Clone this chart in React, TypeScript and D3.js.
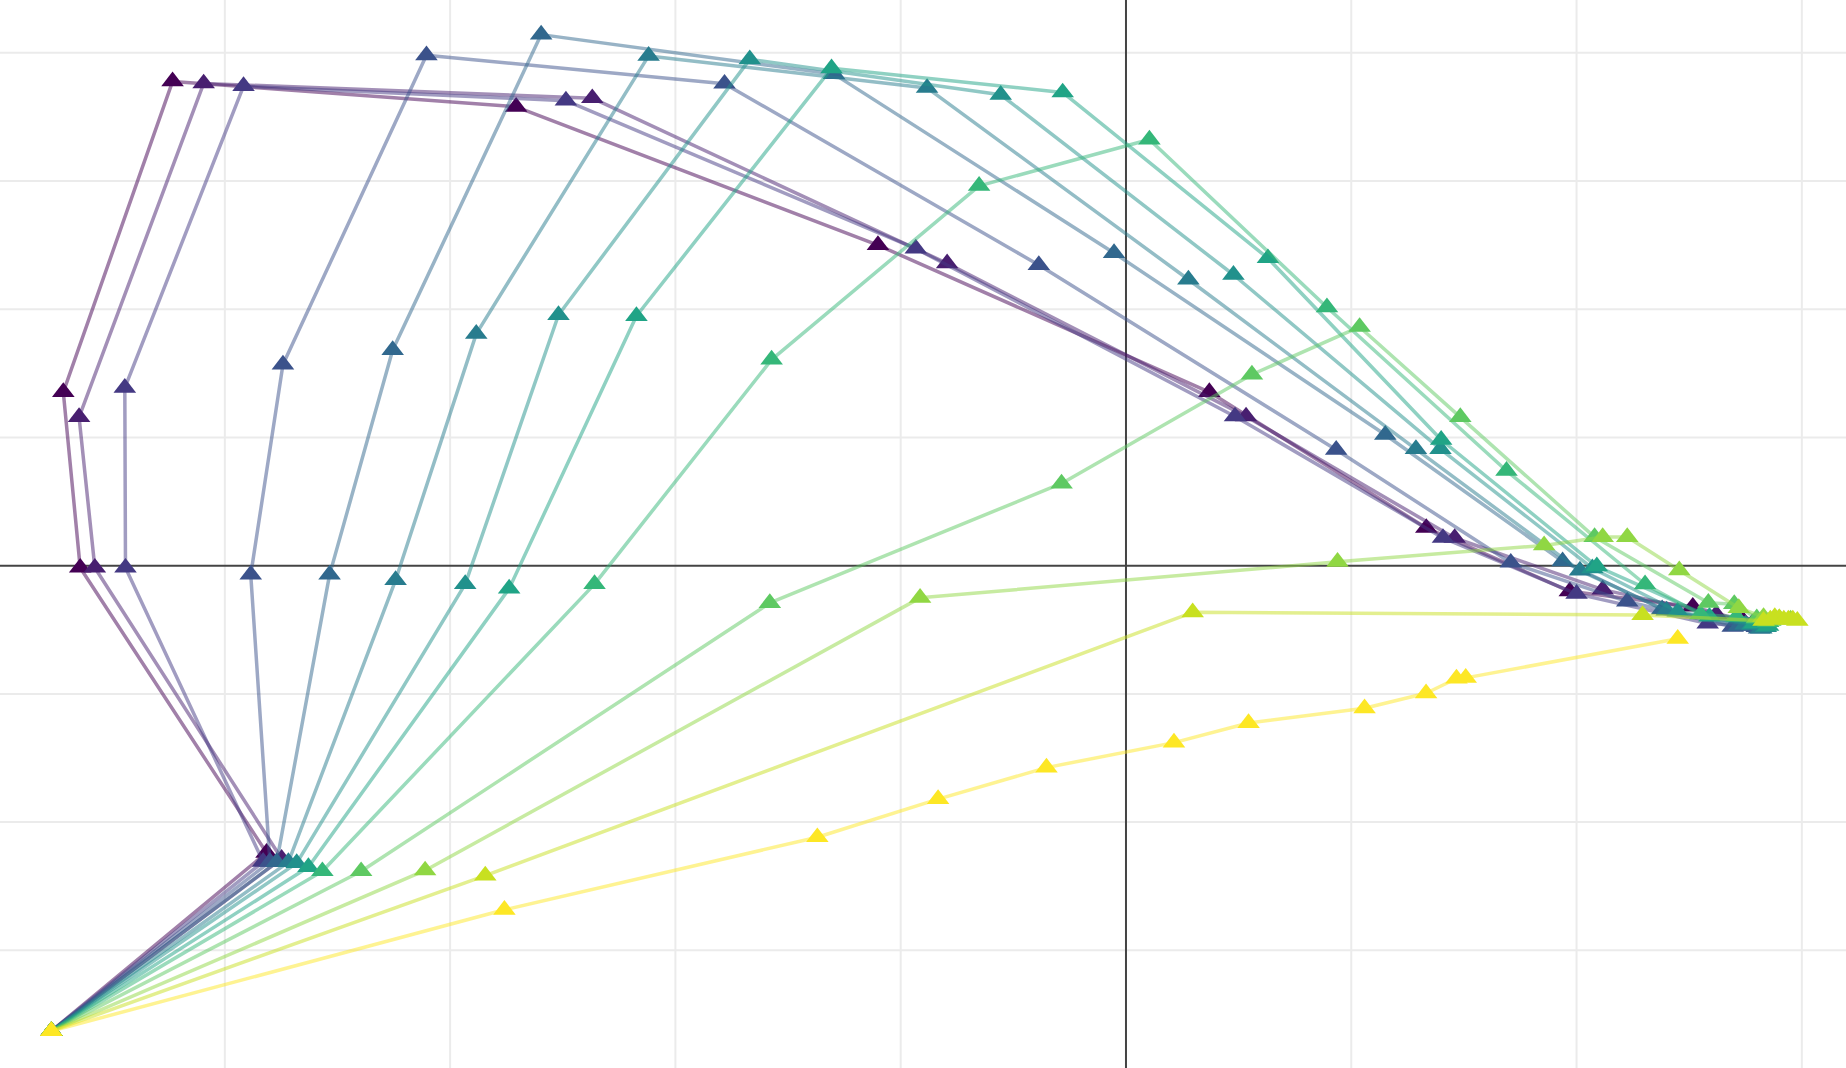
import React from "react";
import * as d3 from "d3";

// ---- data (x, y per trajectory; 12 steps each) ----
const x0 = [-4.77, -3.815, -4.642, -4.717, -4.232, -2.707, -1.101, 0.37, 1.333, 1.97, 2.516, 2.74];
const y0 = [-3.63, -2.239, -0.016, 1.354, 3.777, 3.579, 2.5, 1.354, 0.294, -0.2, -0.32, -0.43];
const x1 = [-4.77, -3.748, -4.577, -4.647, -4.094, -2.369, -0.794, 0.533, 1.459, 2.116, 2.62, 2.78];
const y1 = [-3.63, -2.286, -0.016, 1.159, 3.761, 3.646, 2.358, 1.164, 0.216, -0.187, -0.38, -0.45];
const x2 = [-4.77, -3.83, -4.441, -4.444, -3.917, -2.486, -0.933, 0.484, 1.407, 2.0, 2.582, 2.76];
const y2 = [-3.63, -2.31, -0.016, 1.387, 3.74, 3.627, 2.473, 1.164, 0.216, -0.22, -0.451, -0.47];
const x3 = [-4.77, -3.8, -3.885, -3.742, -3.105, -1.782, -0.387, 0.933, 1.708, 2.225, 2.693, 2.8];
const y3 = [-3.63, -2.31, -0.07, 1.569, 3.981, 3.759, 2.345, 0.904, 0.023, -0.28, -0.477, -0.48];
const x4 = [-4.77, -3.77, -3.535, -3.255, -2.596, -1.296, -0.053, 1.151, 1.938, 2.38, 2.72, 2.81];
const y4 = [-3.63, -2.3125, -0.07, 1.682, 4.142, 3.834, 2.438, 1.021, 0.034, -0.34, -0.47, -0.49];
const x5 = [-4.77, -3.718, -3.242, -2.884, -2.119, -0.883, 0.277, 1.287, 2.015, 2.4, 2.75, 2.82];
const y5 = [-3.63, -2.3125, -0.112, 1.808, 3.976, 3.726, 2.232, 0.909, -0.039, -0.35, -0.46, -0.49];
const x6 = [-4.77, -3.681, -2.933, -2.519, -1.67, -0.556, 0.477, 1.396, 2.07, 2.449, 2.78, 2.84];
const y6 = [-3.63, -2.32, -0.144, 1.955, 3.949, 3.673, 2.269, 0.909, -0.02, -0.359, -0.46, -0.48];
const x7 = [-4.77, -3.629, -2.738, -2.173, -1.307, -0.281, 0.63, 1.399, 2.09, 2.59, 2.79, 2.85];
const y7 = [-3.63, -2.351, -0.179, 1.947, 3.879, 3.691, 2.398, 0.982, -0.005, -0.398, -0.45, -0.47];
const x8 = [-4.77, -3.567, -2.359, -1.573, -0.652, 0.104, 0.892, 1.689, 2.304, 2.55, 2.71, 2.85];
const y8 = [-3.63, -2.383, -0.144, 1.607, 2.962, 3.324, 2.015, 0.74, -0.145, -0.38, -0.4, -0.44];
const x9 = [-4.77, -3.395, -1.581, -0.286, 0.559, 1.037, 1.484, 2.08, 2.585, 2.7, 2.8, 2.86];
const y9 = [-3.63, -2.383, -0.291, 0.641, 1.491, 1.862, 1.159, 0.223, -0.29, -0.3, -0.41, -0.43];
const x10 = [-4.77, -3.111, -0.914, 0.939, 1.856, 2.116, 2.225, 2.456, 2.72, 2.83, 2.9, 2.95];
const y10 = [-3.63, -2.377, -0.251, 0.03, 0.158, 0.223, 0.223, -0.036, -0.33, -0.4, -0.41, -0.42];
const x11 = [-4.77, -2.844, 0.296, 2.293, 2.83, 2.86, 2.88, 2.9, 2.92, 2.94, 2.96, 2.98];
const y11 = [-3.63, -2.417, -0.364, -0.385, -0.43, -0.42, -0.4, -0.41, -0.42, -0.42, -0.42, -0.43];
const x12 = [-4.77, -2.759, -1.37, -0.834, -0.353, 0.213, 0.544, 1.059, 1.332, 1.467, 1.508, 2.449];
const y12 = [-3.63, -2.684, -2.118, -1.821, -1.575, -1.38, -1.227, -1.112, -0.995, -0.88, -0.875, -0.57];

const X_TICKS = [-4, -3, -2, -1, 1, 2, 3];
const Y_TICKS = [-3, -2, -1, 1, 2, 3, 4];

const SERIES = [
  [x0, y0], [x1, y1], [x2, y2], [x3, y3], [x4, y4], [x5, y5], [x6, y6],
  [x7, y7], [x8, y8], [x9, y9], [x10, y10], [x11, y11], [x12, y12],
];

const W = 1846;
const H = 1068;

export default function App() {
  const xs = d3.scaleLinear().domain([-4.998, 3.196]).range([0, W]);
  const ys = d3.scaleLinear().domain([4.412, -3.918]).range([0, H]);
  const n = SERIES.length;
  const color = (i: number) => d3.interpolateViridis(i / (n - 1));
  const r = 9.8;
  const rt = (r * 2) / Math.sqrt(3);
  const tri = `M${-rt},${r / 2}H${rt}L0,${-r}Z`;
  const line = d3
    .line<[number, number]>()
    .x((d) => xs(d[0]))
    .y((d) => ys(d[1]));

  return (
    <div style={{ position: "absolute", left: 0, top: 0 }}>
      <svg width={W} height={H} style={{ display: "block", background: "#fff" }}>
        <g>
          {X_TICKS.map((t) => (
            <line key={"gx" + t} x1={xs(t)} x2={xs(t)} y1={0} y2={H} stroke="#ebebeb" strokeWidth={2} />
          ))}
          {Y_TICKS.map((t) => (
            <line key={"gy" + t} x1={0} x2={W} y1={ys(t)} y2={ys(t)} stroke="#ebebeb" strokeWidth={2} />
          ))}
          <line x1={xs(0)} x2={xs(0)} y1={0} y2={H} stroke="#444" strokeWidth={2} />
          <line x1={0} x2={W} y1={ys(0)} y2={ys(0)} stroke="#444" strokeWidth={2} />
        </g>
        {SERIES.map(([sx, sy], i) => {
          const pts: [number, number][] = sx.map((v, k) => [v, sy[k]]);
          const c = color(i);
          return (
            <g key={"s" + i}>
              <path d={line(pts) || ""} fill="none" stroke={c} strokeWidth={3.5} strokeOpacity={0.5} strokeLinejoin="round" />
              {pts.map((p, k) => (
                <path key={k} d={tri} transform={`translate(${xs(p[0])},${ys(p[1])})`} fill={c} />
              ))}
            </g>
          );
        })}
      </svg>
    </div>
  );
}
